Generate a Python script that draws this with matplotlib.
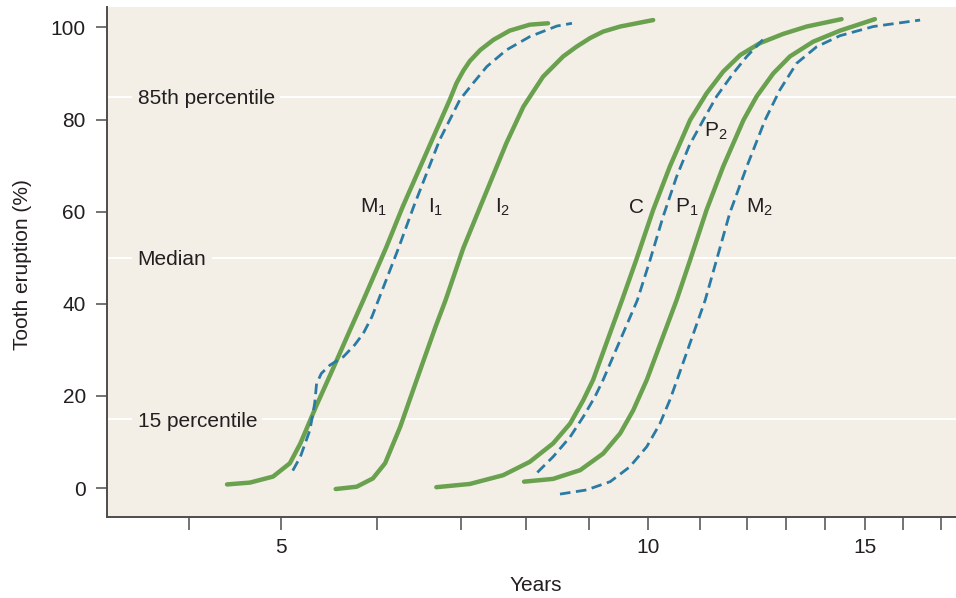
import numpy as np
import matplotlib
matplotlib.use("Agg")
import matplotlib.pyplot as plt
from matplotlib.scale import FuncScale
from matplotlib.ticker import FixedLocator, FixedFormatter
import matplotlib.transforms as mtransforms

plt.rcParams['font.family'] = ['Liberation Sans', 'DejaVu Sans']
plt.rcParams['mathtext.default'] = 'regular'

# ---------------- data (years, % erupted) ----------------
M1_YEARS = [4.41, 4.66, 4.91, 5.09, 5.20, 5.37, 5.55, 5.72, 5.86, 6.11, 6.31, 6.66, 6.87, 6.95, 7.04, 7.14, 7.30, 7.50, 7.75, 8.06, 8.35]
M1_PCT   = [0.8, 1.2, 2.5, 5.4, 9.7, 18.0, 26.3, 34.3, 40.8, 52.1, 61.1, 75.6, 84.3, 87.9, 90.6, 92.7, 95.1, 97.3, 99.3, 100.6, 100.9]

I1_YEARS = [5.12, 5.20, 5.30, 5.35, 5.37, 5.42, 5.51, 5.65, 5.77, 5.86, 5.95, 6.02, 6.26, 6.44, 6.75, 6.99, 7.19, 7.40, 7.70, 8.06, 8.49, 8.73]
I1_PCT   = [3.8, 6.8, 12.6, 18.4, 22.7, 24.9, 26.7, 28.5, 31.1, 33.6, 37.2, 40.8, 52.1, 61.1, 75.6, 84.3, 87.9, 91.5, 95.1, 98.0, 100.3, 100.9]

I2_YEARS = [5.57, 5.79, 5.96, 6.10, 6.28, 6.49, 6.70, 6.82, 7.04, 7.30, 7.70, 7.96, 8.27, 8.59, 8.80, 9.02, 9.24, 9.53, 10.10]
I2_PCT   = [-0.2, 0.3, 2.1, 5.4, 13.3, 24.2, 35.0, 40.8, 52.1, 61.1, 74.9, 82.8, 89.3, 93.7, 95.8, 97.7, 99.1, 100.2, 101.6]

C_YEARS = [6.71, 7.14, 7.65, 8.06, 8.43, 8.70, 8.91, 9.07, 9.56, 9.80, 10.10, 10.42, 10.81, 11.14, 11.49, 11.85, 12.33, 12.93, 13.53, 14.41]
C_PCT   = [0.2, 0.9, 2.8, 5.7, 9.7, 14.0, 19.1, 23.5, 40.8, 49.5, 60.4, 69.8, 79.9, 85.7, 90.4, 94.0, 96.6, 98.6, 100.2, 101.8]

P2_YEARS = [8.18, 8.43, 8.70, 8.91, 9.10, 9.24, 9.82, 10.04, 10.29, 10.55, 10.80, 11.07, 11.35, 11.70, 11.99, 12.41]
P2_PCT   = [3.4, 6.8, 11.1, 15.5, 19.8, 23.5, 40.8, 49.5, 58.9, 67.6, 74.5, 79.9, 85.0, 90.0, 93.7, 97.4]

P1_YEARS = [7.97, 8.43, 8.86, 9.24, 9.53, 9.75, 9.98, 10.55, 10.81, 11.14, 11.49, 11.92, 12.24, 12.67, 13.10, 13.69, 14.37, 15.26]
P1_PCT   = [1.4, 2.0, 3.9, 7.5, 11.9, 16.9, 23.5, 40.8, 49.5, 60.4, 69.8, 79.9, 85.0, 90.0, 93.7, 96.9, 99.3, 101.8]

M2_YEARS = [8.54, 8.96, 9.36, 9.69, 9.98, 10.23, 10.42, 10.56, 11.11, 11.35, 11.63, 11.99, 12.46, 12.84, 13.27, 13.78, 14.37, 15.22, 16.45]
M2_PCT   = [-1.3, -0.4, 1.4, 4.6, 9.0, 14.0, 19.1, 23.5, 40.8, 49.5, 59.7, 69.8, 79.9, 86.4, 92.2, 95.8, 98.2, 100.2, 101.6]

TICK_YEARS = [4, 5, 6, 7, 8, 9, 10, 11, 12, 13, 14, 15, 16, 17]
MAJOR_YEARS = [5, 10, 15]
Y_TICKS = [0, 20, 40, 60, 80, 100]
PERCENTILES = [85, 50, 15]
PERCENTILE_LABELS = ['85th percentile', 'Median', '15 percentile']

CURVE_LABELS = [r'M$_{1}$', r'I$_{1}$', r'I$_{2}$', 'C', r'P$_{1}$', r'P$_{2}$', r'M$_{2}$']
LABEL_YEARS = [5.83, 6.61, 7.53, 9.68, 10.52, 11.09, 11.97]
LABEL_PCT = [59.7, 59.7, 59.7, 59.7, 59.7, 76.3, 59.7]

# ---------------- axis scale (hand-drawn, uneven year spacing) ----------------
_scale_years = [0] + TICK_YEARS + [30]
_gaps = [92.0, 95.4, 84.0, 65.3, 63.0, 59.0, 52.0, 47.3, 38.7, 39.3, 39.7, 38.3, 37.4]
_pos = [0.0]
for g in _gaps:
    _pos.append(_pos[-1] + g)
_pos = [-4 * 92.0] + _pos + [_pos[-1] + 13 * 37.4]


def fwd(t):
    return np.interp(np.asarray(t, dtype=float), _scale_years, _pos)


def inv(p):
    return np.interp(np.asarray(p, dtype=float), _pos, _scale_years)


# ---------------- figure ----------------
GREEN = '#6aa14f'
BLUE = '#2a7aa3'
BG = '#f3efe7'
INK = '#231f20'
SPINE = '#4d4d4d'

fig = plt.figure(figsize=(9.56, 5.98), dpi=100)
ax = fig.add_axes([0.1116, 0.136, 0.8884, 0.8528])
ax.set_facecolor(BG)
ax.set_xscale(FuncScale(ax, (fwd, inv)))
ax.set_xlim(3.102, 17.41)
ax.set_ylim(-6.2, 104.5)

for p in PERCENTILES:
    ax.axhline(p, color='white', lw=1.4, zorder=1)

solid = dict(color=GREEN, lw=3.2, solid_capstyle='round', solid_joinstyle='round', zorder=3)
dashed = dict(color=BLUE, lw=2.0, dashes=(3.8, 2.0), dash_capstyle='butt',
              dash_joinstyle='round', zorder=3)

ax.plot(M1_YEARS, M1_PCT, **solid)
ax.plot(I1_YEARS, I1_PCT, **dashed)
ax.plot(I2_YEARS, I2_PCT, **solid)
ax.plot(C_YEARS, C_PCT, **solid)
ax.plot(P2_YEARS, P2_PCT, **dashed)
ax.plot(P1_YEARS, P1_PCT, **solid)
ax.plot(M2_YEARS, M2_PCT, **dashed)

for lab, x, y in zip(CURVE_LABELS, LABEL_YEARS, LABEL_PCT):
    ax.text(x, y, lab, fontsize=15, color=INK, ha='left', va='baseline', zorder=4)

trans = mtransforms.blended_transform_factory(ax.transAxes, ax.transData)
for p, lab in zip(PERCENTILES, PERCENTILE_LABELS):
    ax.text(0.0365, p, lab, transform=trans, fontsize=15, color=INK,
            ha='left', va='center_baseline', zorder=2,
            bbox=dict(facecolor=BG, edgecolor='none', boxstyle='square,pad=0.25'))

# axes styling
for s in ['top', 'right']:
    ax.spines[s].set_visible(False)
for s in ['left', 'bottom']:
    ax.spines[s].set_color(SPINE)
    ax.spines[s].set_linewidth(1.4)

ax.xaxis.set_major_locator(FixedLocator(TICK_YEARS))
ax.xaxis.set_major_formatter(FixedFormatter([str(t) if t in MAJOR_YEARS else '' for t in TICK_YEARS]))
ax.xaxis.set_minor_locator(FixedLocator([]))
ax.set_yticks(Y_TICKS)
ax.tick_params(axis='x', direction='out', length=9.5, width=1.1, color=SPINE, pad=6,
               labelsize=15, labelcolor=INK)
ax.tick_params(axis='y', direction='out', length=8, width=1.1, color=SPINE, pad=7,
               labelsize=15, labelcolor=INK)

ax.set_xlabel('Years', fontsize=15, color=INK)
ax.set_ylabel('Tooth eruption (%)', fontsize=15, color=INK)
ax.xaxis.set_label_coords(0.5055, -0.134)
ax.xaxis.label.set_va('center')
ax.yaxis.set_label_coords(-0.0997, 0.4935)
ax.yaxis.label.set_va('center')

fig.savefig('out.png', dpi=100, facecolor='white')
